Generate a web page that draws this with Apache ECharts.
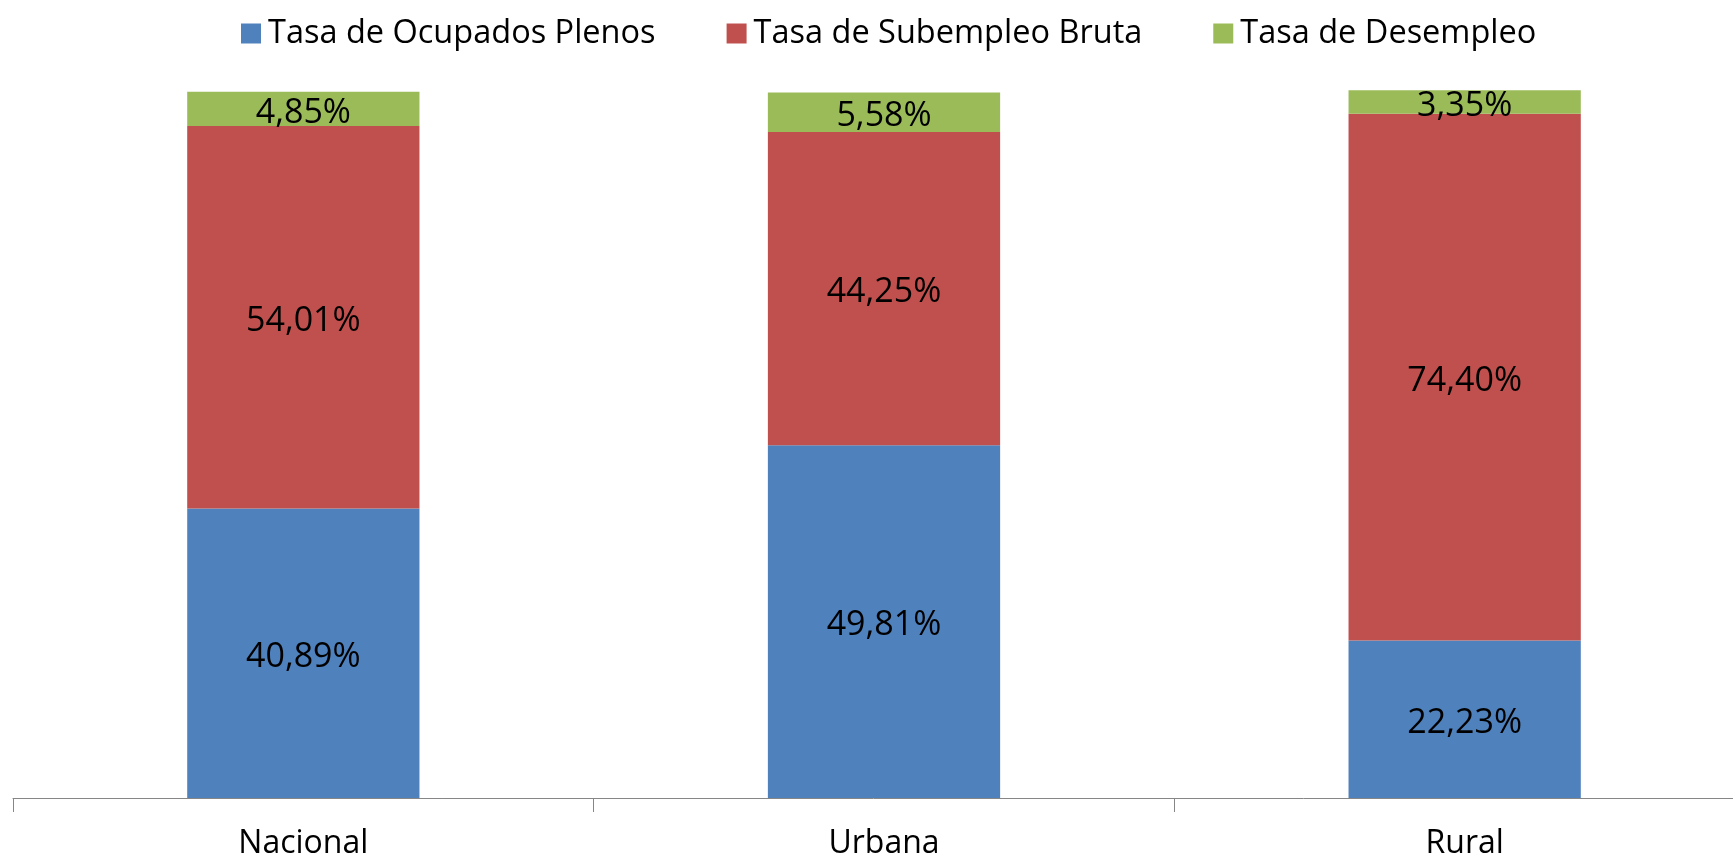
<!DOCTYPE html>
<html>
<head>
<meta charset="utf-8">
<script src="https://cdn.jsdelivr.net/npm/echarts@6/dist/echarts.min.js"></script>
<style>
html,body{margin:0;padding:0;background:#fff;}
#chart{width:1733px;height:861px;}
</style>
</head>
<body>
<div id="chart"></div>
<script>
const categories = ['Nacional', 'Urbana', 'Rural'];
const seriesNames = ['Tasa de Ocupados Plenos', 'Tasa de Subempleo Bruta', 'Tasa de Desempleo'];
const ocupadosPlenos = [40.89, 49.81, 22.23];
const subempleoBruta = [54.01, 44.25, 74.40];
const desempleo = [4.85, 5.58, 3.35];
const colors = ['#4F81BD', '#C0504D', '#9BBB59'];

const FONT = 'Open Sans';
const fmt = p => p.value.toFixed(2).replace('.', ',') + '%';

function mk(name, data, color) {
  return {
    name: name,
    type: 'bar',
    stack: 'total',
    barWidth: '40%',
    data: data,
    itemStyle: { color: color },
    label: {
      show: true,
      position: 'inside',
      offset: [0, 4],
      formatter: fmt,
      color: '#000',
      fontFamily: FONT,
      fontSize: 34
    }
  };
}

const chart = echarts.init(document.getElementById('chart'), null, { renderer: 'canvas' });
chart.setOption({
  animation: false,
  backgroundColor: '#fff',
  legend: {
    top: 12,
    left: 236,
    itemWidth: 20,
    itemHeight: 20,
    itemGap: 71,
    icon: 'rect',
    textStyle: { fontFamily: FONT, fontSize: 32.5, color: '#000', padding: [0, 0, 0, 2] },
    data: seriesNames
  },
  grid: { left: 13, width: 1742, top: 90, bottom: 63, containLabel: false, outerBoundsMode: 'none' },
  xAxis: {
    type: 'category',
    data: categories,
    boundaryGap: true,
    axisLine: { lineStyle: { color: '#868686', width: 1 } },
    axisTick: { show: true, length: 14, alignWithLabel: false, lineStyle: { color: '#868686' } },
    axisLabel: { color: '#000', fontFamily: FONT, fontSize: 32, margin: 30 }
  },
  yAxis: {
    type: 'value',
    min: 0,
    max: 100,
    show: false,
    splitLine: { show: false }
  },
  series: [
    mk(seriesNames[0], ocupadosPlenos, colors[0]),
    mk(seriesNames[1], subempleoBruta, colors[1]),
    mk(seriesNames[2], desempleo, colors[2])
  ]
});
</script>
</body>
</html>
